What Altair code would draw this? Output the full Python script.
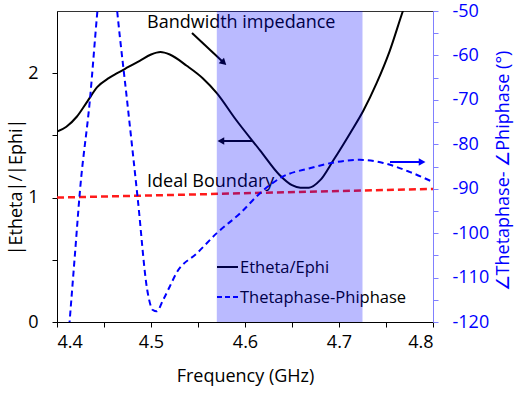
import altair as alt
import pandas as pd

# |Etheta|/|Ephi| versus frequency
ratio_freq = [4.400, 4.410, 4.421, 4.432, 4.443, 4.455, 4.464, 4.476, 4.488, 4.500,
              4.510, 4.520, 4.538, 4.555, 4.570, 4.590, 4.616, 4.637, 4.650, 4.659,
              4.668, 4.680, 4.694, 4.712, 4.726, 4.740, 4.754, 4.768, 4.780]
ratio_vals = [1.53, 1.57, 1.65, 1.77, 1.89, 1.96, 2.00, 2.05, 2.10, 2.15,
              2.17, 2.15, 2.06, 1.96, 1.84, 1.63, 1.38, 1.18, 1.10, 1.08,
              1.08, 1.14, 1.30, 1.52, 1.70, 1.92, 2.18, 2.50, 2.75]

# Thetaphase - Phiphase (degrees) versus frequency
phase_freq = [4.413, 4.419, 4.4245, 4.435, 4.443, 4.449, 4.454, 4.459, 4.464, 4.475,
              4.486, 4.496, 4.502, 4.506, 4.513, 4.520, 4.527, 4.549, 4.570, 4.595,
              4.616, 4.640, 4.669, 4.697, 4.722, 4.747, 4.775, 4.800]
phase_vals = [-121.0, -105.0, -90.3, -70.0, -50.0, -37.0, -33.0, -39.0, -50.0, -71.0,
              -92.5, -112.8, -117.3, -117.6, -115.0, -112.0, -109.0, -104.5, -100.0, -95.5,
              -91.0, -87.3, -85.4, -84.0, -83.5, -84.2, -86.2, -88.5]

# Ideal boundary line
ideal_freq = [4.4, 4.8]
ideal_vals = [1.0, 1.07]

# Impedance bandwidth
band_start = [4.57]
band_end = [4.725]

x_ticks = [4.4, 4.45, 4.5, 4.55, 4.6, 4.65, 4.7, 4.75, 4.8]
left_ticks = [0, 0.5, 1, 1.5, 2]
right_ticks = list(range(-120, -45, 5))

FONT = "Open Sans"
W, H = 376, 311

ratio_df = pd.DataFrame({"f": ratio_freq, "v": ratio_vals})
phase_df = pd.DataFrame({"f": phase_freq, "v": phase_vals})
ideal_df = pd.DataFrame({"f": ideal_freq, "v": ideal_vals})
band_df = pd.DataFrame({"a": band_start, "b": band_end})

x_enc = alt.X(
    "f:Q",
    scale=alt.Scale(domain=[4.4, 4.8], nice=False, zero=False),
    axis=alt.Axis(
        title="Frequency (GHz)", values=x_ticks,
        labelExpr="(round(datum.value*100) % 10 == 0) ? format(datum.value, '.1f') : ''",
        grid=False, domainColor="black", tickColor="black", tickSize=5,
        labelFontSize=18, labelColor="black", labelPadding=6, labelFont=FONT,
        titleFontSize=18, titleFontWeight="normal", titleColor="black",
        titleFont=FONT, titlePadding=16,
    ),
)

left_y = alt.Scale(domain=[0, 2.5], nice=False, zero=False)

ratio_line = alt.Chart(ratio_df).mark_line(
    color="black", strokeWidth=2, clip=True, interpolate="monotone"
).encode(
    x=x_enc,
    y=alt.Y(
        "v:Q", scale=left_y,
        axis=alt.Axis(
            title="|Etheta|/|Ephi|", values=left_ticks,
            labelExpr="datum.value % 1 == 0 ? '' + datum.value : ''",
            grid=False, domainColor="black", tickColor="black", tickSize=5,
            labelFontSize=18, labelColor="black", labelPadding=14, labelFont=FONT,
            titleFontSize=18, titleFontWeight="normal", titleColor="black",
            titleFont=FONT, titleAngle=270, titleBaseline="middle",
            titleX=-41, titleY=H / 2 + 20, titleAlign="center",
        ),
    ),
)

ideal_line = alt.Chart(ideal_df).mark_line(
    color="#ff1a1a", strokeWidth=2.5, strokeDash=[7, 4], clip=True
).encode(x="f:Q", y=alt.Y("v:Q", scale=left_y))


def label(text, x, y, size=18, color="black", align="left"):
    return alt.Chart(pd.DataFrame({"t": [text]})).mark_text(
        font=FONT, fontSize=size, color=color, align=align, baseline="alphabetic"
    ).encode(x=alt.value(x), y=alt.value(y), text="t:N")


def arrow(x0, y0, x1, y1, angle, color="black"):
    shaft = alt.Chart(pd.DataFrame({"k": [0]})).mark_rule(
        color=color, strokeWidth=2
    ).encode(x=alt.value(x0), y=alt.value(y0), x2=alt.value(x1), y2=alt.value(y1))
    head = alt.Chart(pd.DataFrame({"k": [0]})).mark_point(
        shape="triangle", filled=True, color=color, size=60, angle=angle, opacity=1
    ).encode(x=alt.value(x1), y=alt.value(y1))
    return shaft + head


annotations = [
    label("Bandwidth impedance", 90, 17),
    arrow(135, 22, 166, 51, 133),
    arrow(195, 130, 165, 130, 270),
    label("Ideal Boundary", 90, 176),
    arrow(333, 151, 364, 151, 90, color="blue"),
    # legend
    alt.Chart(pd.DataFrame({"k": [0]})).mark_rule(color="black", strokeWidth=2).encode(
        x=alt.value(160), x2=alt.value(181), y=alt.value(256)
    ),
    label("Etheta/Ephi", 183, 262, size=16.5),
    alt.Chart(pd.DataFrame({"k": [0]})).mark_rule(
        color="blue", strokeWidth=2, strokeDash=[5, 3]
    ).encode(x=alt.value(160), x2=alt.value(181), y=alt.value(286)),
    label("Thetaphase-Phiphase", 183, 292, size=16.5),
]

left = alt.layer(ratio_line, ideal_line, *annotations)

phase_line = alt.Chart(phase_df).mark_line(
    color="blue", strokeWidth=2, strokeDash=[6, 4], clip=True, interpolate="monotone"
).encode(
    x="f:Q",
    y=alt.Y(
        "v:Q",
        scale=alt.Scale(domain=[-120, -50], nice=False, zero=False),
        axis=alt.Axis(
            title="∠Thetaphase- ∠Phiphase (°)", orient="right", values=right_ticks,
            labelExpr="datum.value % 10 == 0 ? '' + datum.value : ''",
            grid=False, domainColor="#8080ff", tickColor="#8080ff", tickSize=5,
            labelFontSize=18, labelColor="blue", labelPadding=14, labelFont=FONT,
            titleFontSize=18, titleFontWeight="normal", titleColor="blue",
            titleFont=FONT, titleAngle=270, titleBaseline="middle",
            titleX=70, titleY=H / 2 + 4, titleAlign="center",
        ),
    ),
)

band = alt.Chart(band_df).mark_rect(color="blue", opacity=0.27).encode(
    x="a:Q", x2="b:Q"
)

right = alt.layer(phase_line, band)

chart = alt.layer(left, right).resolve_scale(y="independent").properties(
    width=W, height=H,
    padding={"left": 57, "top": 11, "right": 81, "bottom": 75},
    autosize=alt.AutoSizeParams(type="none"),
    background="white",
).configure_view(stroke="#333333", strokeWidth=1)

chart.save("out.html", embed_options={"renderer": "svg", "actions": False})
